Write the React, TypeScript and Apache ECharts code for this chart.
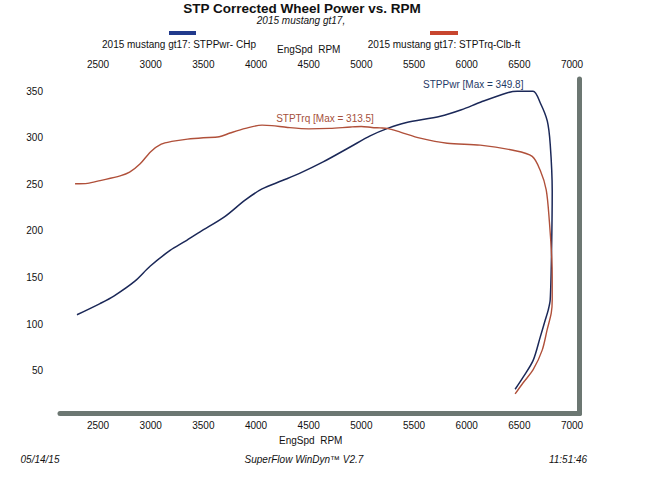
import React, { useEffect, useRef } from "react";
import * as echarts from "echarts";

const FONT = '"Liberation Sans", Arial, sans-serif';

const rpmTicks = [2500, 3000, 3500, 4000, 4500, 5000, 5500, 6000, 6500, 7000];
const valueTicks = [50, 100, 150, 200, 250, 300, 350];

const powerRpm = [
  2300, 2519, 2650, 2850, 2994, 3184, 3330, 3469, 3700, 3896, 4057, 4250, 4418, 4637, 4893, 5083,
  5250, 5420, 5750, 5950, 6130, 6380, 6480, 6630, 6700, 6765, 6793, 6812, 6806, 6793, 6774, 6745,
  6698, 6631, 6536, 6460,
];
const powerHp = [
  110, 122, 130, 146, 162, 179, 189, 199, 215, 233, 245, 254, 262, 274, 290, 302,
  310, 316, 323, 330, 338, 348, 349.8, 349.8, 337, 318, 293, 243, 180, 126, 115, 104,
  86, 61, 43, 30,
];

const torqueRpm = [
  2282, 2400, 2520, 2710, 2800, 2900, 3000, 3100, 3200, 3350, 3500, 3650, 3754, 3900, 4057, 4150,
  4300, 4500, 4700, 4900, 5000, 5100, 5178, 5245, 5370, 5558, 5815, 6128, 6441, 6622, 6698, 6755,
  6785, 6808, 6812, 6812, 6803, 6764, 6717, 6631, 6536, 6460,
];
const torqueLbFt = [
  250.5, 251, 254, 259, 263, 272, 285, 293, 296, 298.5, 300, 301, 305, 310, 313.5, 313,
  311, 309.5, 310, 311.5, 312, 311, 310.5, 310, 306, 299.5, 294, 292, 286.5, 280, 265, 244,
  210, 170, 150, 126, 112, 94, 72, 51, 37, 25,
];

const POWER_COLOR = "#1b2858";
const TORQUE_COLOR = "#b0503a";
const FRAME_COLOR = "#6c7772";

export default function App() {
  const ref = useRef<HTMLDivElement>(null);
  useEffect(() => {
    if (!ref.current) return;
    const chart = echarts.init(ref.current, undefined, { renderer: "svg" });
    const powerData = powerRpm.map((r, i) => [r, powerHp[i]]);
    const torqueData = torqueRpm.map((r, i) => [r, torqueLbFt[i]]);
    const txt = (text: string, x: number, y: number, font: string, fill = "#111", align = "center") => ({
      type: "text",
      x,
      y,
      silent: true,
      style: { text, font, fill, align, verticalAlign: "middle", textAlign: align, textVerticalAlign: "middle" },
    });
    const plain = (v: number) => String(v);
    const axisCommon = {
      type: "value",
      min: 2139,
      max: 7071,
      splitLine: { show: false },
      axisTick: { show: false },
    };
    chart.setOption({
      animation: false,
      backgroundColor: "#ffffff",
      grid: { left: 60, right: 75.5, top: 79, bottom: 64.5 },
      xAxis: [
        {
          ...axisCommon,
          position: "bottom",
          axisLine: { show: true, onZero: false, lineStyle: { color: FRAME_COLOR, width: 5 } },
          axisLabel: { customValues: rpmTicks, formatter: plain, color: "#111", fontSize: 10, fontFamily: FONT, margin: 7 },
          name: "EngSpd  RPM",
          nameLocation: "middle",
          nameGap: 17,
          nameTextStyle: { color: "#111", fontSize: 10, fontFamily: FONT, padding: [0, 18, 0, 0] },
        },
        {
          ...axisCommon,
          position: "top",
          axisLine: { show: false },
          axisLabel: { customValues: rpmTicks, formatter: plain, color: "#111", fontSize: 10, fontFamily: FONT, margin: 10 },
          name: "EngSpd  RPM",
          nameLocation: "middle",
          nameGap: 21,
          nameTextStyle: { color: "#111", fontSize: 10, fontFamily: FONT, padding: [0, 22, 0, 0] },
        },
      ],
      yAxis: [
        {
          type: "value",
          min: 4,
          max: 363,
          position: "left",
          axisLine: { show: false },
          axisTick: { show: false },
          splitLine: { show: false },
          axisLabel: { customValues: valueTicks, formatter: plain, color: "#111", fontSize: 10, fontFamily: FONT, margin: 17 },
        },
        {
          type: "value",
          min: 4,
          max: 363,
          position: "right",
          axisLine: { show: true, onZero: false, lineStyle: { color: FRAME_COLOR, width: 5 } },
          axisTick: { show: false },
          splitLine: { show: false },
          axisLabel: { show: false },
        },
      ],
      series: [
        {
          name: "2015 mustang gt17: STPPwr- CHp",
          type: "line",
          data: powerData,
          showSymbol: false,
          smooth: 0.3,
          lineStyle: { color: POWER_COLOR, width: 1.5 },
          itemStyle: { color: POWER_COLOR },
          markPoint: {
            symbol: "circle",
            symbolSize: 0,
            data: [{ type: "max" }],
            label: {
              show: true,
              position: "inside",
              offset: [-44, -7],
              color: "#1f3a66",
              fontSize: 10,
              fontFamily: FONT,
              formatter: (p: any) => `STPPwr [Max = ${p.value}]`,
            },
          },
        },
        {
          name: "2015 mustang gt17: STPTrq-Clb-ft",
          type: "line",
          data: torqueData,
          showSymbol: false,
          smooth: 0.3,
          lineStyle: { color: TORQUE_COLOR, width: 1.4 },
          itemStyle: { color: TORQUE_COLOR },
          markPoint: {
            symbol: "circle",
            symbolSize: 0,
            data: [{ type: "max" }],
            label: {
              show: true,
              position: "inside",
              offset: [63, -7],
              color: "#a5503c",
              fontSize: 10,
              fontFamily: FONT,
              formatter: (p: any) => `STPTrq [Max = ${p.value}]`,
            },
          },
        },
      ],
      graphic: [
        txt("STP Corrected Wheel Power vs. RPM", 302, 8, `bold 13.5px ${FONT}`),
        txt("2015 mustang gt17,", 301, 20, `italic 10px ${FONT}`),
        { type: "rect", silent: true, shape: { x: 169, y: 31, width: 27, height: 4 }, style: { fill: "#213a8c" } },
        txt("2015 mustang gt17: STPPwr- CHp", 179, 44, `10px ${FONT}`),
        { type: "rect", silent: true, shape: { x: 430, y: 31, width: 28, height: 4 }, style: { fill: "#c8452e" } },
        txt("2015 mustang gt17: STPTrq-Clb-ft", 444, 44, `10px ${FONT}`),
        txt("05/14/15", 40, 459, `italic 10px ${FONT}`),
        txt("SuperFlow WinDyn\u2122 V2.7", 304, 459, `italic 10px ${FONT}`),
        txt("11:51:46", 568, 459, `italic 10px ${FONT}`),
      ],
    });
    return () => chart.dispose();
  }, []);
  return <div ref={ref} style={{ position: "fixed", left: 0, top: 0, width: 655, height: 478 }} />;
}
